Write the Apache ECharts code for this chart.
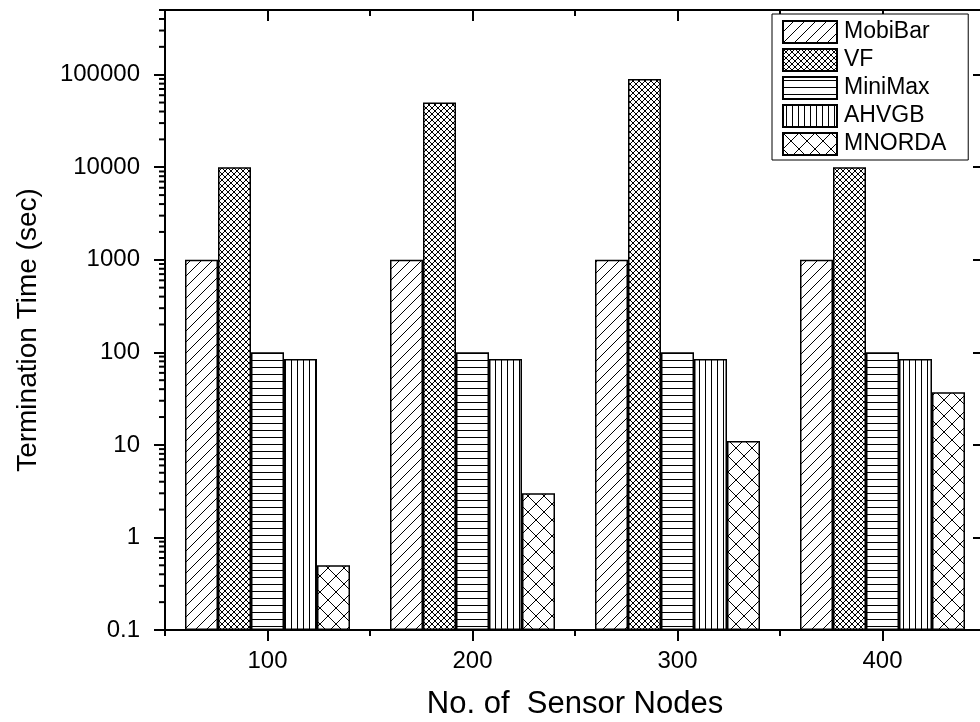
<!DOCTYPE html>
<html>
<head>
<meta charset="utf-8">
<title>Termination Time</title>
<script src="https://cdn.jsdelivr.net/npm/echarts@6/dist/echarts.min.js"></script>
<style>
  html, body { margin: 0; padding: 0; background: #fff; }
  #chart { width: 980px; height: 722px; }
</style>
</head>
<body>
<div id="chart"></div>
<script>
// Sensor-node counts on the x axis
const categories = ['100', '200', '300', '400'];

// Termination time (sec) for each protocol
const mobiBar = [1000, 1000, 1000, 1000];
const vf      = [10000, 50000, 90000, 10000];
const miniMax = [100, 100, 100, 100];
const ahvgb   = [85, 85, 85, 85];
const mnorda  = [0.5, 3, 11, 37];

const seriesNames = ['MobiBar', 'VF', 'MiniMax', 'AHVGB', 'MNORDA'];

// Decade ticks of the log axis
const decadeTicks = [0.1, 1, 10, 100, 1000, 10000, 100000];
const yMin = 0.1;
const yMax = 500000;

// Intermediate (2..9) tick values between decades
const minorTicks = [];
for (let d = 0; d < decadeTicks.length; d++) {
  for (let k = 2; k <= 9; k++) {
    const v = decadeTicks[d] * k;
    if (v < yMax + 1e-9) minorTicks.push(v);
  }
}

// Monochrome hatch patterns drawn on small canvases
function makePattern(kind) {
  const c = document.createElement('canvas');
  const ctx = c.getContext('2d');
  let s;
  ctx.strokeStyle = '#000';
  ctx.lineWidth = 1;
  if (kind === 'diag') {
    s = 11; c.width = s; c.height = s;
    ctx.fillStyle = '#fff'; ctx.fillRect(0, 0, s, s);
    ctx.beginPath();
    ctx.moveTo(0, s); ctx.lineTo(s, 0);
    ctx.moveTo(-2, 2); ctx.lineTo(2, -2);
    ctx.moveTo(s - 2, s + 2); ctx.lineTo(s + 2, s - 2);
    ctx.stroke();
  } else if (kind === 'crossFine' || kind === 'crossWide') {
    s = kind === 'crossFine' ? 6 : 16; c.width = s; c.height = s;
    ctx.fillStyle = '#fff'; ctx.fillRect(0, 0, s, s);
    ctx.beginPath();
    ctx.moveTo(0, s); ctx.lineTo(s, 0);
    ctx.moveTo(-2, 2); ctx.lineTo(2, -2);
    ctx.moveTo(s - 2, s + 2); ctx.lineTo(s + 2, s - 2);
    ctx.moveTo(0, 0); ctx.lineTo(s, s);
    ctx.moveTo(-2, s - 2); ctx.lineTo(2, s + 2);
    ctx.moveTo(s - 2, -2); ctx.lineTo(s + 2, 2);
    ctx.stroke();
  } else if (kind === 'hlines') {
    c.width = 8; c.height = 7;
    ctx.fillStyle = '#fff'; ctx.fillRect(0, 0, 8, 7);
    ctx.fillStyle = '#000'; ctx.fillRect(0, 3, 8, 1);
  } else if (kind === 'vlines') {
    c.width = 6; c.height = 8;
    ctx.fillStyle = '#fff'; ctx.fillRect(0, 0, 6, 8);
    ctx.fillStyle = '#000'; ctx.fillRect(3, 0, 1, 8);
  }
  return { image: c, repeat: 'repeat' };
}

const patterns = {
  MobiBar: makePattern('diag'),
  VF: makePattern('crossFine'),
  MiniMax: makePattern('hlines'),
  AHVGB: makePattern('vlines'),
  MNORDA: makePattern('crossWide')
};

const seriesValues = { MobiBar: mobiBar, VF: vf, MiniMax: miniMax, AHVGB: ahvgb, MNORDA: mnorda };

const FONT = '"Liberation Sans", Arial, sans-serif';

function decadeLabel(v) {
  const e = Math.log10(v);
  const r = Math.round(e);
  if (Math.abs(e - r) > 1e-6 || v > 100001) return '';
  return r < 0 ? '0.1' : String(Math.round(Math.pow(10, r)));
}

const chart = echarts.init(document.getElementById('chart'), null, { renderer: 'canvas' });

const barSeries = seriesNames.map(name => ({
  name: name,
  type: 'bar',
  xAxisIndex: 0,
  yAxisIndex: 0,
  data: seriesValues[name],
  barWidth: 33,
  barGap: '0%',
  itemStyle: {
    color: patterns[name],
    borderColor: '#000',
    borderWidth: 1.5
  },
  emphasis: { disabled: true },
  animation: false
}));

// Short log-spaced ticks along the left axis
const minorTickSeries = {
  type: 'custom',
  xAxisIndex: 0,
  yAxisIndex: 0,
  silent: true,
  animation: false,
  clip: false,
  data: minorTicks.map(v => [0, v]),
  renderItem: function (params, api) {
    const y = api.coord([0, api.value(1)])[1];
    const x0 = params.coordSys.x;
    return {
      type: 'line',
      shape: { x1: x0 - 6, y1: y, x2: x0, y2: y },
      style: { stroke: '#000', lineWidth: 2 }
    };
  }
};

const baseCat = {
  type: 'category',
  data: categories,
  boundaryGap: true,
  axisLine: { show: false, lineStyle: { color: '#000', width: 2 } },
  axisLabel: { show: false },
  axisTick: { show: true, lineStyle: { color: '#000', width: 2 } },
  splitLine: { show: false }
};

const option = {
  backgroundColor: '#fff',
  animation: false,
  grid: { left: 165, top: 10, width: 820, height: 620, containLabel: false, outerBoundsMode: 'none' },
  legend: {
    data: seriesNames,
    orient: 'vertical',
    left: 772,
    top: 14,
    padding: [6, 22, 4, 10],
    itemWidth: 54,
    itemHeight: 22,
    itemGap: 4,
    icon: 'rect',
    borderColor: '#000',
    borderWidth: 1,
    backgroundColor: '#fff',
    selectedMode: false,
    textStyle: { fontFamily: FONT, fontSize: 23, color: '#000', lineHeight: 22, padding: [0, 0, 0, 2] }
  },
  xAxis: [
    Object.assign({}, baseCat, {
      position: 'bottom',
      axisLine: { show: true, onZero: false, lineStyle: { color: '#000', width: 2 } },
      axisTick: { show: true, alignWithLabel: true, inside: false, length: 11, lineStyle: { color: '#000', width: 2 } },
      axisLabel: { show: true, margin: 19, fontFamily: FONT, fontSize: 24, color: '#000' },
      name: 'No. of  Sensor Nodes',
      nameLocation: 'middle',
      nameGap: 59,
      nameTextStyle: { fontFamily: FONT, fontSize: 31, color: '#000' }
    }),
    Object.assign({}, baseCat, {
      position: 'bottom',
      axisTick: { show: true, inside: false, length: 6, lineStyle: { color: '#000', width: 2 } }
    }),
    Object.assign({}, baseCat, {
      position: 'top',
      axisLine: { show: true, onZero: false, lineStyle: { color: '#000', width: 2 } },
      axisTick: { show: true, alignWithLabel: true, inside: true, length: 11, lineStyle: { color: '#000', width: 2 } }
    }),
    Object.assign({}, baseCat, {
      position: 'top',
      axisTick: { show: true, inside: true, length: 6, lineStyle: { color: '#000', width: 2 } }
    })
  ],
  yAxis: [
    {
      type: 'log',
      logBase: 10,
      min: yMin,
      max: yMax,
      startValue: yMin,
      position: 'left',
      axisLine: { show: true, onZero: false, lineStyle: { color: '#000', width: 2 } },
      axisTick: { show: true, inside: false, length: 11, customValues: decadeTicks, lineStyle: { color: '#000', width: 2 } },
      axisLabel: {
        show: true, margin: 25, fontFamily: FONT, fontSize: 24, color: '#000',
        customValues: decadeTicks,
        formatter: decadeLabel
      },
      splitLine: { show: false },
      name: 'Termination Time (sec)',
      nameLocation: 'middle',
      nameGap: 123,
      nameTextStyle: { fontFamily: FONT, fontSize: 28, color: '#000', padding: [0, 20, 0, 0] }
    },
    {
      type: 'log',
      logBase: 10,
      min: yMin,
      max: yMax,
      position: 'right',
      axisLine: { show: true, onZero: false, lineStyle: { color: '#000', width: 2 } },
      axisTick: { show: true, inside: true, length: 12, customValues: decadeTicks, lineStyle: { color: '#000', width: 2 } },
      axisLabel: { show: false },
      splitLine: { show: false }
    }
  ],
  series: barSeries.concat([minorTickSeries])
};

chart.setOption(option);
</script>
</body>
</html>
